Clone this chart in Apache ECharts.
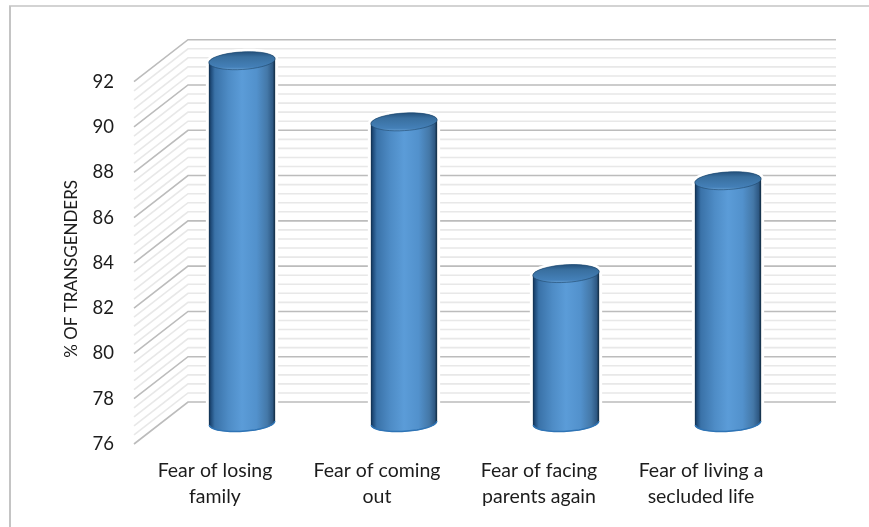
<!DOCTYPE html>
<html>
<head>
<meta charset="utf-8">
<style>html,body{margin:0;padding:0;background:#fff}#chart{width:869px;height:527px}</style>
<script src="https://cdn.jsdelivr.net/npm/echarts@6/dist/echarts.min.js"></script>
</head>
<body>
<div id="chart"></div>
<script>
// Survey results: share of respondents reporting each fear.
const categories = [
  'Fear of losing\nfamily',
  'Fear of coming\nout',
  'Fear of facing\nparents again',
  'Fear of living a\nsecluded life'
];
const percentages = [92, 89.3, 82.6, 86.7];
const yMin = 76;
const yMax = 92;
const yStep = 2;
const minorPerStep = 5;

// Pseudo-3D depth of the chart box, in pixels.
const depthX = 54;
const depthY = -42;

const chart = echarts.init(document.getElementById('chart'), null, { renderer: 'canvas' });

// Wall rules: every step is a major line, the rest are lighter minor lines.
const wallTicks = [];
for (let i = 0; i <= (yMax - yMin) / yStep * minorPerStep; i++) {
  const major = i % minorPerStep === 0;
  wallTicks.push([yMin + i * yStep / minorPerStep, major ? 1 : 0]);
}

function renderWallLine(params, api) {
  const box = params.coordSys;
  const y = api.coord([0, api.value(0)])[1];
  const major = api.value(1) === 1;
  return {
    type: 'polyline',
    shape: {
      points: [
        [box.x, y],
        [box.x + depthX, y + depthY],
        [box.x + box.width + depthX, y + depthY]
      ]
    },
    style: {
      fill: null,
      stroke: major ? '#bcbcbc' : '#e8e8e8',
      lineWidth: 1.6
    }
  };
}

const bodyGradient = () => new echarts.graphic.LinearGradient(0, 0, 1, 0, [
  { offset: 0, color: '#0f2c4a' },
  { offset: 0.03, color: '#1e4a78' },
  { offset: 0.09, color: '#3a72a8' },
  { offset: 0.3, color: '#4e8cc6' },
  { offset: 0.5, color: '#5b9cd8' },
  { offset: 0.72, color: '#5291cc' },
  { offset: 0.88, color: '#4478a8' },
  { offset: 0.96, color: '#2f5a85' },
  { offset: 1, color: '#10293f' }
]);

const topGradient = () => new echarts.graphic.LinearGradient(0, 0, 0, 1, [
  { offset: 0, color: '#234f7a' },
  { offset: 0.3, color: '#396f9f' },
  { offset: 0.85, color: '#4480b8' },
  { offset: 1, color: '#6ba4d8' }
]);

function ellipseArc(cx, cy, a, b, tilt, from, to) {
  const pts = [];
  const steps = 40;
  const cosT = Math.cos(tilt);
  const sinT = Math.sin(tilt);
  for (let i = 0; i <= steps; i++) {
    const t = from + (to - from) * i / steps;
    const px = a * Math.cos(t);
    const py = b * Math.sin(t);
    pts.push([cx + px * cosT - py * sinT, cy + px * sinT + py * cosT]);
  }
  return pts;
}

function renderCylinder(params, api) {
  const idx = api.value(0);
  const top = api.coord([idx, api.value(1)]);
  const base = api.coord([idx, yMin]);
  const a = api.size([1, 0])[0] * 0.205;
  const b = 8.8;
  const tilt = -3.5 * Math.PI / 180;
  const cx = top[0] + depthX / 2;
  const topY = top[1] + depthY / 2;
  const baseY = base[1] + depthY / 2;
  const outline = ellipseArc(cx, baseY, a, b, tilt, 0, Math.PI)
    .concat(ellipseArc(cx, topY, a, b, tilt, Math.PI, 2 * Math.PI));
  const cap = ellipseArc(cx, topY, a, b, tilt, 0, 2 * Math.PI);
  return {
    type: 'group',
    children: [
      // White halo that breaks the wall rules around each column.
      { type: 'polygon', shape: { points: outline },
        style: { fill: '#fff', stroke: '#fff', lineWidth: 6 } },
      { type: 'polygon', shape: { points: outline },
        style: { fill: bodyGradient() } },
      { type: 'polyline', shape: { points: ellipseArc(cx, baseY, a - 0.5, b - 0.5, tilt, 0, Math.PI) },
        style: { fill: null, stroke: '#2f74b5', lineWidth: 1.5 } },
      { type: 'polygon', shape: { points: cap },
        style: { fill: topGradient(), stroke: '#1d4468', lineWidth: 0.6 } }
    ]
  };
}

chart.setOption({
  animation: false,
  backgroundColor: '#fff',
  textStyle: { fontFamily: 'Lato' },
  graphic: [
    { type: 'line', shape: { x1: 9, y1: 6, x2: 869, y2: 6 },
      style: { stroke: '#c4c4c4', lineWidth: 1.5 } },
    { type: 'line', shape: { x1: 10, y1: 6, x2: 10, y2: 527 },
      style: { stroke: '#c4c4c4', lineWidth: 2 } }
  ],
  grid: { left: 134, top: 81.7, width: 648, height: 362.3 },
  xAxis: {
    type: 'category',
    data: categories,
    axisLine: { show: false },
    axisTick: { show: false },
    axisLabel: { color: '#1c1c1c', fontSize: 19.5, lineHeight: 26, margin: 14, interval: 0 }
  },
  yAxis: {
    type: 'value',
    min: yMin,
    max: yMax,
    interval: yStep,
    name: '% OF TRANSGENDERS',
    nameLocation: 'middle',
    nameRotate: 90,
    nameGap: 54,
    nameTextStyle: { color: '#1c1c1c', fontSize: 17, padding: [0, 12, 0, 0] },
    axisLine: { show: false },
    axisTick: { show: false },
    splitLine: { show: false },
    axisLabel: { color: '#1c1c1c', fontSize: 18.5, margin: 20 }
  },
  series: [
    {
      type: 'custom',
      name: 'walls',
      coordinateSystem: 'cartesian2d',
      clip: false,
      silent: true,
      z: 1,
      data: wallTicks,
      encode: { y: 0 },
      renderItem: renderWallLine
    },
    {
      type: 'custom',
      name: '% of transgenders',
      coordinateSystem: 'cartesian2d',
      clip: false,
      z: 2,
      data: percentages.map((v, i) => [i, v]),
      encode: { x: 0, y: 1 },
      renderItem: renderCylinder
    }
  ]
});
</script>
</body>
</html>
